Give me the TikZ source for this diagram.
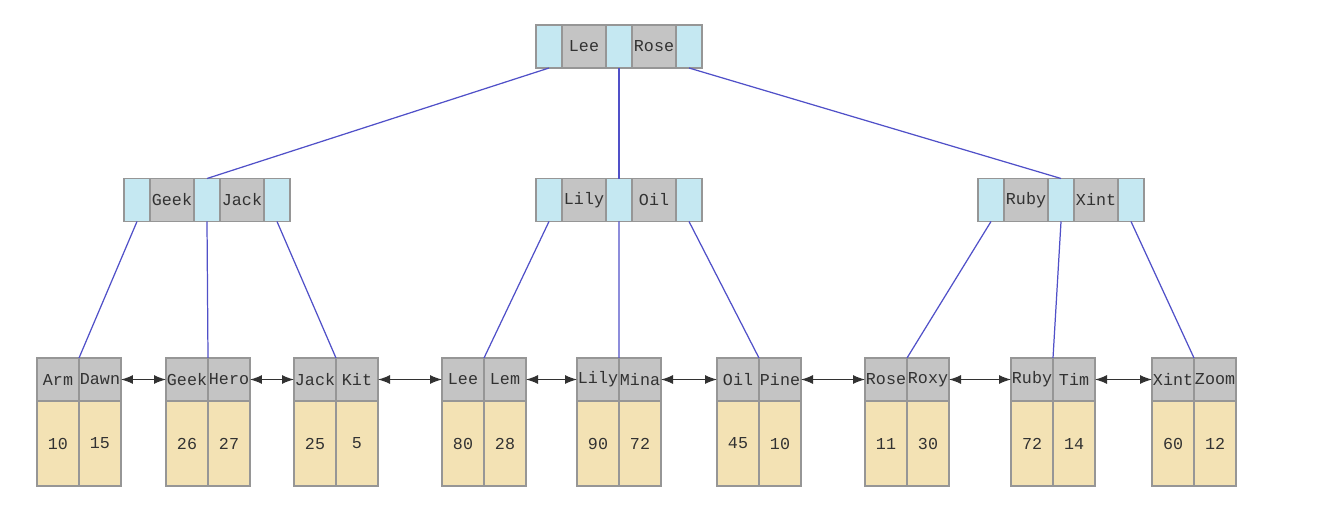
\documentclass[tikz,border=0pt]{standalone}
\usepackage{fontspec}
\newfontfamily\keyfont{Liberation Mono}
\usetikzlibrary{arrows.meta}
\definecolor{ptrblue}{RGB}{197,232,242}
\definecolor{keygray}{RGB}{196,196,196}
\definecolor{databeige}{RGB}{243,226,180}
\definecolor{cellborder}{RGB}{150,150,150}
\definecolor{edgeblue}{RGB}{80,80,200}
\definecolor{txtgray}{RGB}{50,50,50}

\begin{document}
\begin{tikzpicture}[x=0.02cm,y=-0.02cm,
	cell/.style={draw=cellborder,line width=0.6pt,inner sep=0,outer sep=0,
		minimum height=0.86cm,text=txtgray,font=\keyfont\fontsize{9.5}{11}\selectfont},
	ptr/.style={cell,fill=ptrblue,minimum width=0.52cm},
	key/.style={cell,fill=keygray,minimum width=0.88cm},
	lkey/.style={cell,fill=keygray,minimum width=0.84cm},
	val/.style={cell,fill=databeige,minimum width=0.84cm,minimum height=1.7cm},
	edge/.style={draw=edgeblue,line width=0.7pt},
	link/.style={draw=txtgray,line width=0.7pt,{Latex[length=2.4mm,width=1.8mm]}-{Latex[length=2.4mm,width=1.8mm]}}]
	\useasboundingbox (0,0) rectangle (1324,510);
	% root
	\node[ptr] (r0) at (549,46.5) {};
	\node[key] (r1) at (584,46.5) {Lee};
	\node[ptr] (r2) at (619,46.5) {};
	\node[key] (r3) at (654,46.5) {Rose};
	\node[ptr] (r4) at (689,46.5) {};
	% inner level
	\node[ptr] (a0) at (137,200) {};
	\node[key] (a1) at (172,200) {Geek};
	\node[ptr] (a2) at (207,200) {};
	\node[key] (a3) at (242,200) {Jack};
	\node[ptr] (a4) at (277,200) {};
	\node[ptr] (b0) at (549,200) {};
	\node[key] (b1) at (584,200) {Lily};
	\node[ptr] (b2) at (619,200) {};
	\node[key] (b3) at (654,200) {Oil};
	\node[ptr] (b4) at (689,200) {};
	\node[ptr] (c0) at (991,200) {};
	\node[key] (c1) at (1026,200) {Ruby};
	\node[ptr] (c2) at (1061,200) {};
	\node[key] (c3) at (1096,200) {Xint};
	\node[ptr] (c4) at (1131,200) {};
	% leaves
	\node[lkey] (l1a) at (58,379.5) {Arm};
	\node[lkey] (l1b) at (100,379.5) {Dawn};
	\node[val] at (58,443.5) {10};
	\node[val] at (100,443.5) {15};
	\node[lkey] (l2a) at (187,379.5) {Geek};
	\node[lkey] (l2b) at (229,379.5) {Hero};
	\node[val] at (187,443.5) {26};
	\node[val] at (229,443.5) {27};
	\node[lkey] (l3a) at (315,379.5) {Jack};
	\node[lkey] (l3b) at (357,379.5) {Kit};
	\node[val] at (315,443.5) {25};
	\node[val] at (357,443.5) {5};
	\node[lkey] (l4a) at (463,379.5) {Lee};
	\node[lkey] (l4b) at (505,379.5) {Lem};
	\node[val] at (463,443.5) {80};
	\node[val] at (505,443.5) {28};
	\node[lkey] (l5a) at (598,379.5) {Lily};
	\node[lkey] (l5b) at (640,379.5) {Mina};
	\node[val] at (598,443.5) {90};
	\node[val] at (640,443.5) {72};
	\node[lkey] (l6a) at (738,379.5) {Oil};
	\node[lkey] (l6b) at (780,379.5) {Pine};
	\node[val] at (738,443.5) {45};
	\node[val] at (780,443.5) {10};
	\node[lkey] (l7a) at (886,379.5) {Rose};
	\node[lkey] (l7b) at (928,379.5) {Roxy};
	\node[val] at (886,443.5) {11};
	\node[val] at (928,443.5) {30};
	\node[lkey] (l8a) at (1032,379.5) {Ruby};
	\node[lkey] (l8b) at (1074,379.5) {Tim};
	\node[val] at (1032,443.5) {72};
	\node[val] at (1074,443.5) {14};
	\node[lkey] (l9a) at (1173,379.5) {Xint};
	\node[lkey] (l9b) at (1215,379.5) {Zoom};
	\node[val] at (1173,443.5) {60};
	\node[val] at (1215,443.5) {12};
	% pointers
	\draw[edge] (r0.south) -- (a2.north);
	\draw[edge] (r2.south) -- (b2.north);
	\draw[edge] (r4.south) -- (c2.north);
	\draw[edge] (a0.south) -- (l1a.north east);
	\draw[edge] (a2.south) -- (l2a.north east);
	\draw[edge] (a4.south) -- (l3a.north east);
	\draw[edge] (b0.south) -- (l4a.north east);
	\draw[edge] (b2.south) -- (l5a.north east);
	\draw[edge] (b4.south) -- (l6a.north east);
	\draw[edge] (c0.south) -- (l7a.north east);
	\draw[edge] (c2.south) -- (l8a.north east);
	\draw[edge] (c4.south) -- (l9a.north east);
	% leaf links
	\draw[link] (l1b.east) -- (l2a.west);
	\draw[link] (l2b.east) -- (l3a.west);
	\draw[link] (l3b.east) -- (l4a.west);
	\draw[link] (l4b.east) -- (l5a.west);
	\draw[link] (l5b.east) -- (l6a.west);
	\draw[link] (l6b.east) -- (l7a.west);
	\draw[link] (l7b.east) -- (l8a.west);
	\draw[link] (l8b.east) -- (l9a.west);
\end{tikzpicture}
\end{document}
